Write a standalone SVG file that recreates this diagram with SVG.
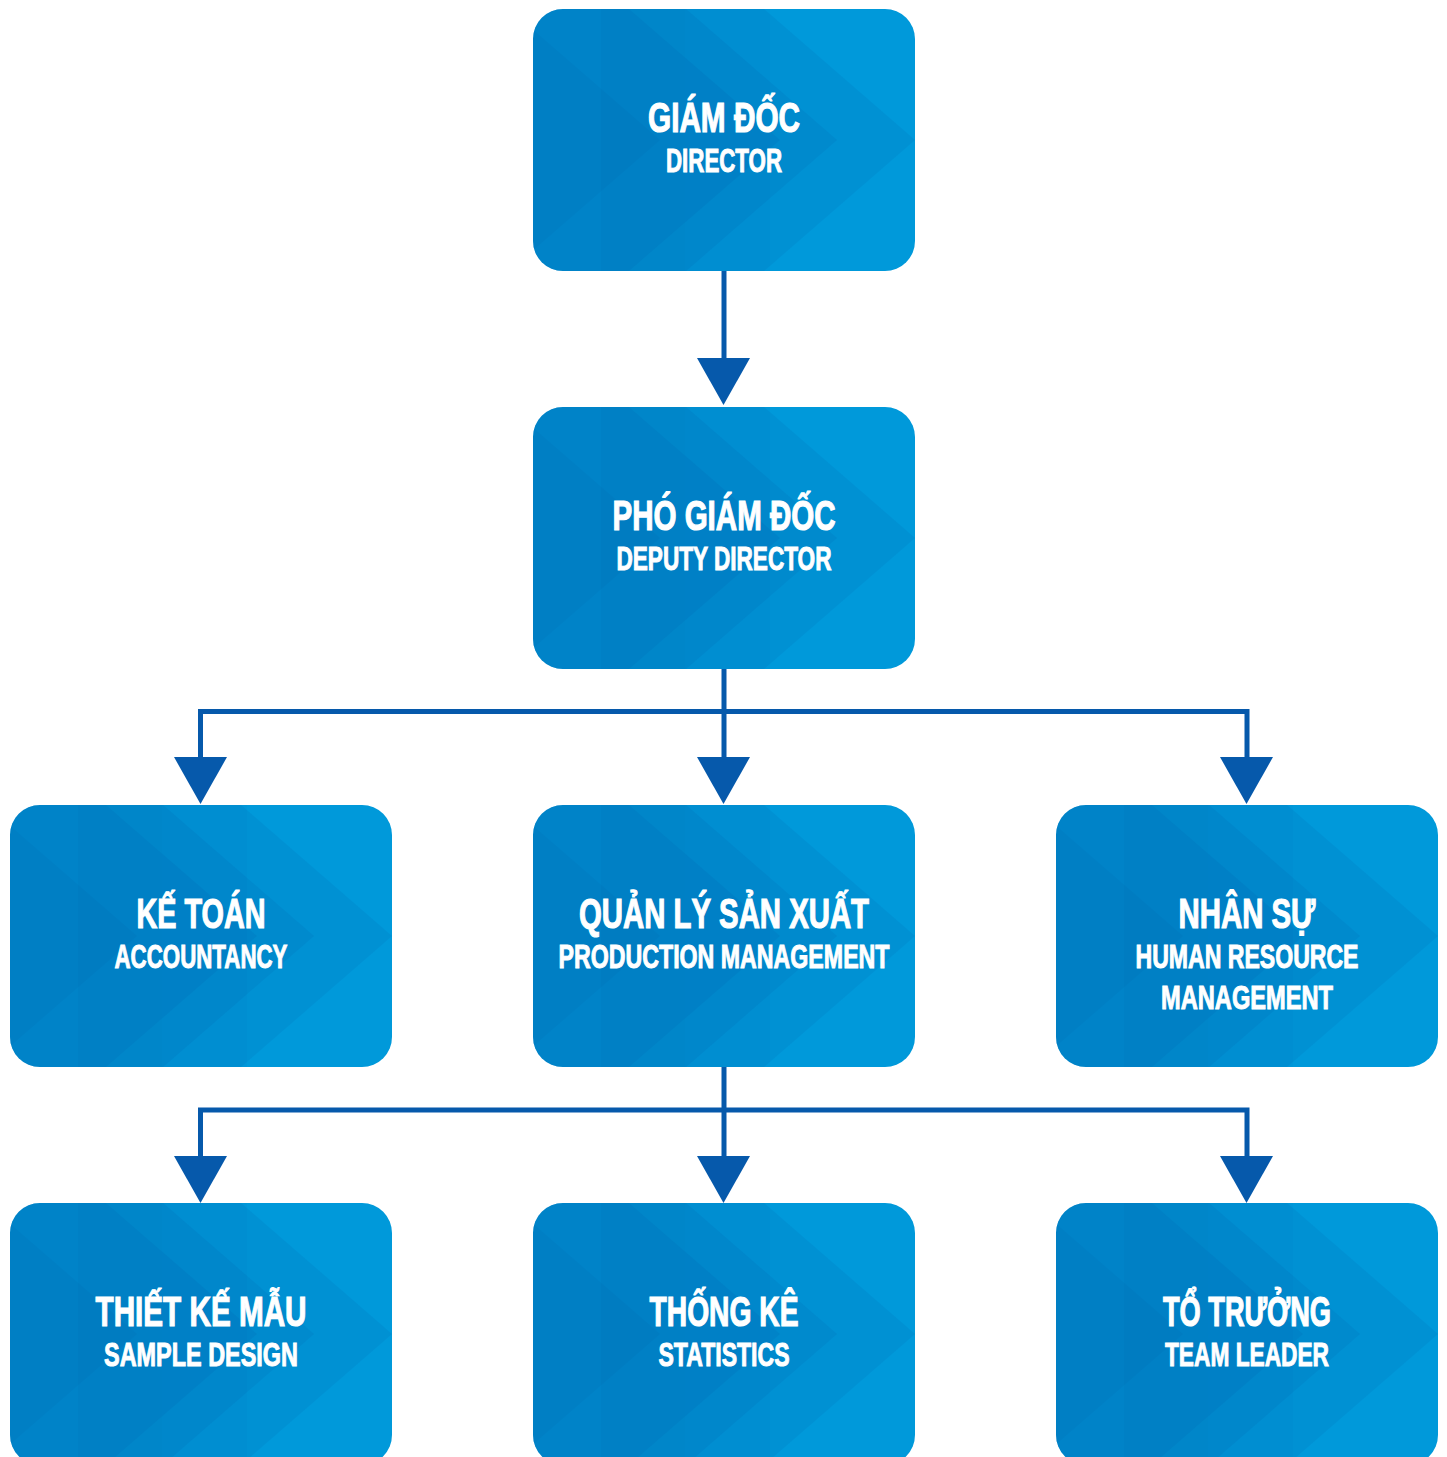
<svg xmlns="http://www.w3.org/2000/svg" xmlns:xlink="http://www.w3.org/1999/xlink" width="1447" height="1457" viewBox="0 0 1447 1457">
<style>
.t1{font-family:"Liberation Sans","DejaVu Sans",sans-serif;font-weight:bold;font-size:42px;fill:#fff;stroke:#fff;stroke-width:1.2px;text-anchor:middle}
.t2{font-family:"Liberation Sans","DejaVu Sans",sans-serif;font-weight:bold;font-size:33px;fill:#fff;stroke:#fff;stroke-width:1px;text-anchor:middle}
.ln{fill:none;stroke:#0659ab;stroke-width:5}
.ah{fill:#0659ab}
.sh{fill:#004f9e}
</style>
<defs>
<clipPath id="cc"><rect width="382" height="262" rx="30"/></clipPath>
<g id="card">
<g clip-path="url(#cc)">
<rect width="382" height="262" fill="#0099da"/>
<polygon class="sh" opacity="0.10" points="-50,-40 185,-40 382,131 185,302 -50,302"/>
<polygon class="sh" opacity="0.10" points="-50,-40 107,-40 304,131 107,302 -50,302"/>
<polygon class="sh" opacity="0.10" points="-50,-40 50,-40 247,131 50,302 -50,302"/>
<polygon class="sh" opacity="0.07" points="-80,-40 -70,-40 127,131 -70,302 -80,302"/>
<rect class="sh" opacity="0.06" x="68" y="0" width="84" height="262"/>
<rect class="sh" opacity="0.03" x="152" y="0" width="85" height="262"/>
</g>
</g>
</defs>

<g id="connectors">
<path class="ln" d="M724,271 V370"/>
<polygon class="ah" points="697,358 750,358 723.5,405"/>
<path class="ln" d="M724,668 V711.5 M200.5,760 V711.5 H1247 V760 M724,711.5 V760"/>
<polygon class="ah" points="174,757 227,757 200.5,804"/>
<polygon class="ah" points="697,757 750,757 723.5,804"/>
<polygon class="ah" points="1220,757 1273,757 1246.5,804"/>
<path class="ln" d="M724,1066 V1110 M200.5,1160 V1110 H1247 V1160 M724,1110 V1160"/>
<polygon class="ah" points="174,1156 227,1156 200.5,1203"/>
<polygon class="ah" points="697,1156 750,1156 723.5,1203"/>
<polygon class="ah" points="1220,1156 1273,1156 1246.5,1203"/>
</g>

<g id="director" transform="translate(533,9)">
<use xlink:href="#card"/>
<text class="t1" x="191" y="123" textLength="152" lengthAdjust="spacingAndGlyphs">GIÁM ĐỐC</text>
<text class="t2" x="191" y="163" textLength="116" lengthAdjust="spacingAndGlyphs">DIRECTOR</text>
</g>

<g id="deputy" transform="translate(533,407)">
<use xlink:href="#card"/>
<text class="t1" x="191" y="123" textLength="223" lengthAdjust="spacingAndGlyphs">PHÓ GIÁM ĐỐC</text>
<text class="t2" x="191" y="163" textLength="215" lengthAdjust="spacingAndGlyphs">DEPUTY DIRECTOR</text>
</g>

<g id="accountancy" transform="translate(10,805)">
<use xlink:href="#card"/>
<text class="t1" x="191" y="123" textLength="129" lengthAdjust="spacingAndGlyphs">KẾ TOÁN</text>
<text class="t2" x="191" y="163" textLength="173" lengthAdjust="spacingAndGlyphs">ACCOUNTANCY</text>
</g>

<g id="production" transform="translate(533,805)">
<use xlink:href="#card"/>
<text class="t1" x="191" y="123" textLength="290" lengthAdjust="spacingAndGlyphs">QUẢN LÝ SẢN XUẤT</text>
<text class="t2" x="191" y="163" textLength="331" lengthAdjust="spacingAndGlyphs">PRODUCTION MANAGEMENT</text>
</g>

<g id="hr" transform="translate(1056,805)">
<use xlink:href="#card"/>
<text class="t1" x="191" y="123" textLength="137" lengthAdjust="spacingAndGlyphs">NHÂN SỰ</text>
<text class="t2" x="191" y="163" textLength="223" lengthAdjust="spacingAndGlyphs">HUMAN RESOURCE</text>
<text class="t2" x="191" y="204" textLength="172" lengthAdjust="spacingAndGlyphs">MANAGEMENT</text>
</g>

<g id="sample" transform="translate(10,1203)">
<use xlink:href="#card"/>
<text class="t1" x="191" y="123" textLength="211" lengthAdjust="spacingAndGlyphs">THIẾT KẾ MẪU</text>
<text class="t2" x="191" y="163" textLength="194" lengthAdjust="spacingAndGlyphs">SAMPLE DESIGN</text>
</g>

<g id="statistics" transform="translate(533,1203)">
<use xlink:href="#card"/>
<text class="t1" x="191" y="123" textLength="149" lengthAdjust="spacingAndGlyphs">THỐNG KÊ</text>
<text class="t2" x="191" y="163" textLength="131" lengthAdjust="spacingAndGlyphs">STATISTICS</text>
</g>

<g id="leader" transform="translate(1056,1203)">
<use xlink:href="#card"/>
<text class="t1" x="191" y="123" textLength="168" lengthAdjust="spacingAndGlyphs">TỔ TRƯỞNG</text>
<text class="t2" x="191" y="163" textLength="164" lengthAdjust="spacingAndGlyphs">TEAM LEADER</text>
</g>
</svg>
